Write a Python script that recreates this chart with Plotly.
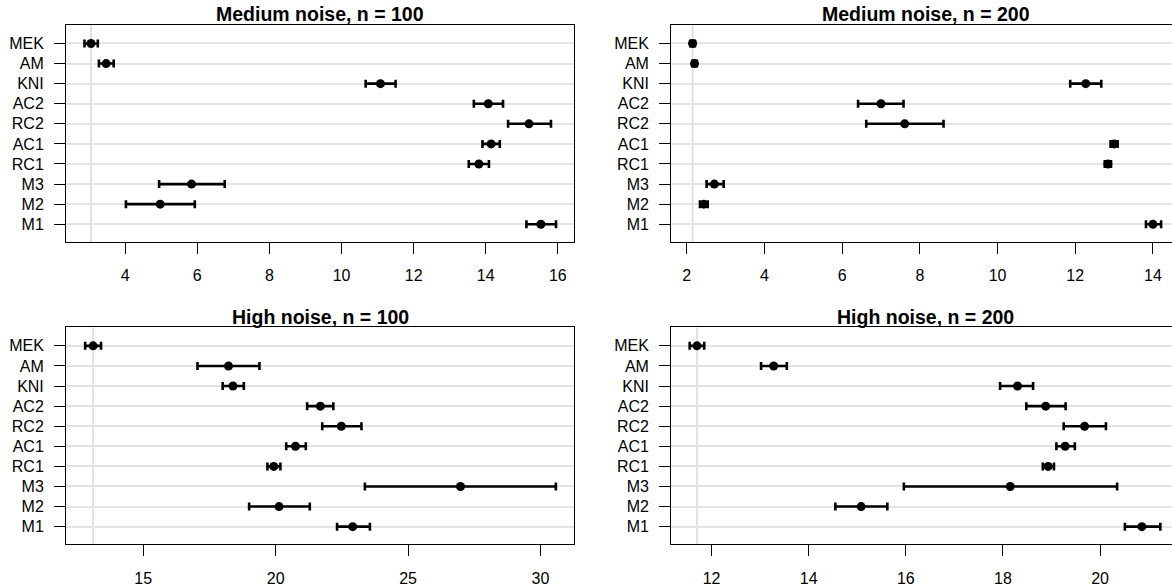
import plotly.graph_objects as go

methods = ["MEK", "AM", "KNI", "AC2", "RC2", "AC1", "RC1", "M3", "M2", "M1"]

titles = ["Medium noise, n = 100", "Medium noise, n = 200",
          "High noise, n = 100", "High noise, n = 200"]

# Medium noise, n = 100
med100_est = [3.05, 3.47, 11.08, 14.07, 15.20, 14.15, 13.81, 5.84, 4.97, 15.53]
med100_lo = [2.87, 3.27, 10.67, 13.67, 14.62, 13.91, 13.53, 4.94, 4.02, 15.13]
med100_hi = [3.24, 3.68, 11.50, 14.48, 15.81, 14.39, 14.09, 6.76, 5.93, 15.95]

# Medium noise, n = 200
med200_est = [2.15, 2.20, 12.27, 7.00, 7.61, 13.00, 12.84, 2.71, 2.44, 14.00]
med200_lo = [2.09, 2.14, 11.87, 6.41, 6.62, 12.91, 12.76, 2.51, 2.34, 13.82]
med200_hi = [2.21, 2.26, 12.67, 7.58, 8.61, 13.09, 12.92, 2.95, 2.54, 14.21]

# High noise, n = 100
high100_est = [13.11, 18.22, 18.39, 21.69, 22.48, 20.75, 19.93, 26.98, 20.13, 22.91]
high100_lo = [12.81, 17.05, 18.00, 21.19, 21.76, 20.40, 19.69, 23.37, 19.00, 22.32]
high100_hi = [13.41, 19.39, 18.80, 22.18, 23.24, 21.14, 20.18, 30.58, 21.29, 23.56]

# High noise, n = 200
high200_est = [11.70, 13.28, 18.30, 18.88, 19.68, 19.28, 18.93, 18.15, 15.08, 20.86]
high200_lo = [11.55, 13.02, 17.94, 18.48, 19.25, 19.10, 18.82, 15.96, 14.55, 20.51]
high200_hi = [11.85, 13.55, 18.62, 19.29, 20.12, 19.48, 19.05, 20.35, 15.62, 21.24]

panels = [
    (med100_est, med100_lo, med100_hi),
    (med200_est, med200_lo, med200_hi),
    (high100_est, high100_lo, high100_hi),
    (high200_est, high200_lo, high200_hi),
]

x_ranges = [[2.36, 16.46], [1.6, 14.49], [12.09, 31.28], [11.17, 21.48]]
x_dticks = [2, 2, 5, 2]

W, H = 1172, 587
box_x = [(66.1, 574.4), (671.2, 1172.0), (66.1, 574.4), (671.2, 1172.0)]
box_y = [(25.0, 244.0), (25.0, 244.0), (330.0, 549.0), (330.0, 549.0)]

n = len(methods)
ypos = [n - i for i in range(n)]

FONT = "Liberation Sans, Arial, Helvetica, sans-serif"

fig = go.Figure()
shapes = []
annotations = []

for k, (est, lo, hi) in enumerate(panels):
    ax = "" if k == 0 else str(k + 1)
    xa, ya = "x" + ax, "y" + ax
    fig.add_trace(go.Scatter(
        x=est, y=ypos, xaxis=xa, yaxis=ya, mode="markers",
        marker=dict(color="black", size=9, line=dict(width=0)),
        error_x=dict(type="data", symmetric=False,
                     array=[h - e for h, e in zip(hi, est)],
                     arrayminus=[e - l for e, l in zip(est, lo)],
                     color="black", thickness=2.6, width=4),
        showlegend=False, hoverinfo="skip",
    ))
    x0, x1 = box_x[k]
    y0, y1 = box_y[k]
    right = k in (1, 3)
    fig.layout["xaxis" + ax] = dict(
        domain=[x0 / W, x1 / W], anchor=ya, range=x_ranges[k],
        dtick=x_dticks[k], tick0=0, showgrid=False, zeroline=False,
        showline=True, linecolor="black", linewidth=1.2, mirror=True,
        ticks="outside", ticklen=11, tickwidth=1.2, tickcolor="black",
        ticklabelstandoff=8,
        tickfont=dict(family=FONT, size=16, color="black"),
    )
    fig.layout["yaxis" + ax] = dict(
        domain=[1 - y1 / H, 1 - y0 / H], anchor=xa, range=[0.12, n + 0.93],
        tickvals=ypos, ticktext=methods, showgrid=True,
        gridcolor="#e4e4e4", gridwidth=1.6, zeroline=False,
        showline=True, linecolor="black", linewidth=1.2,
        mirror=(not right),
        ticks="outside", ticklen=11, tickwidth=1.2, tickcolor="black",
        ticklabelstandoff=7,
        tickfont=dict(family=FONT, size=16, color="black"),
    )
    shapes.append(dict(
        type="line", xref=xa, yref=ya + " domain", x0=est[0], x1=est[0],
        y0=0, y1=1, line=dict(color="#d9d9d9", width=1.5), layer="below",
    ))
    annotations.append(dict(
        text="<b>" + titles[k] + "</b>", xref="paper", yref="paper",
        x=((x0 + (x1 if not right else 1180.0)) / 2) / W,
        y=1 - (y0 - 10.5) / H, xanchor="center", yanchor="middle",
        showarrow=False, font=dict(family=FONT, size=19.5, color="black"),
    ))

fig.update_layout(
    width=W, height=H, margin=dict(l=0, r=0, t=0, b=0),
    paper_bgcolor="white", plot_bgcolor="white",
    shapes=shapes, annotations=annotations,
)

fig.write_html("out.html")
